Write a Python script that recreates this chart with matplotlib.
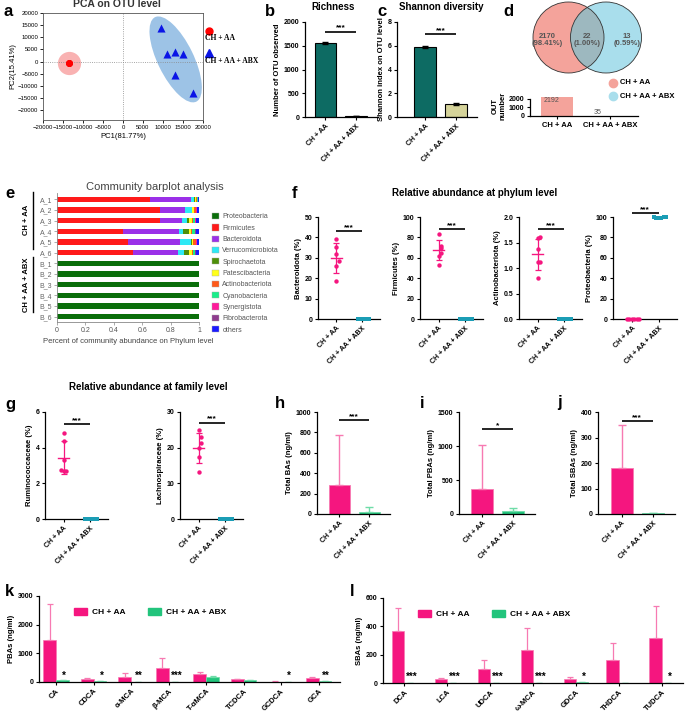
import numpy as np
import matplotlib
matplotlib.use('Agg')
import matplotlib.pyplot as plt
import matplotlib.transforms as transforms
from matplotlib.patches import Ellipse, Circle, Patch
from matplotlib.lines import Line2D

plt.rcParams['font.family'] = ['Liberation Sans', 'DejaVu Sans']
plt.rcParams['font.size'] = 5
plt.rcParams['axes.linewidth'] = 0.9

# ---------------- data ----------------
groups = ['CH + AA', 'CH + AA + ABX']

# a: PCA scores
pca_aa_x = [-13600, -13500, -13400, -13550, -13450, -13500]
pca_aa_y = [-600, -500, -400, -550, -450, -500]
pca_abx_x = [9500, 11000, 13000, 15000, 13000, 17500]
pca_abx_y = [14000, 3000, 4000, 3000, -5500, -13000]

# b, c: alpha diversity
richness = [1560, 15]
richness_err = [25, 3]
shannon = [5.9, 1.1]
shannon_err = [0.1, 0.06]

# d: venn
venn_counts = [2170, 22, 13]
venn_pct = ['98.41%', '1.00%', '0.59%']
otu_total = [2192, 35]

# e: community barplot
samples = ['A_1', 'A_2', 'A_3', 'A_4', 'A_5', 'A_6', 'B_1', 'B_2', 'B_3', 'B_4', 'B_5', 'B_6']
phyla = ['Proteobacteria', 'Firmicutes', 'Bacteroidota', 'Verrucomicrobiota', 'Spirochaetota',
         'Patescibacteria', 'Actinobacteriota', 'Cyanobacteria', 'Synergistota', 'Fibrobacterota', 'others']
phylum_colors = ['#0a6e0a', '#ff1a1a', '#9b30e8', '#2ee8f5', '#4e8f0a', '#ffff1a',
                 '#ff5a1a', '#1aee8a', '#ff1a9a', '#8e3c8e', '#1a1aff']
proteo_frac = [0.003, 0.003, 0.003, 0.003, 0.003, 0.003, 1, 1, 1, 1, 1, 1]
firm_frac = [0.65, 0.72, 0.72, 0.46, 0.50, 0.53, 0, 0, 0, 0, 0, 0]
bact_frac = [0.29, 0.18, 0.155, 0.395, 0.36, 0.32, 0, 0, 0, 0, 0, 0]
verr_frac = [0.02, 0.045, 0.04, 0.03, 0.08, 0.04, 0, 0, 0, 0, 0, 0]
spiro_frac = [0.007, 0.005, 0.01, 0.045, 0.007, 0.035, 0, 0, 0, 0, 0, 0]
pates_frac = [0.008, 0.01, 0.02, 0.01, 0.01, 0.025, 0, 0, 0, 0, 0, 0]
actino_frac = [0.01, 0.015, 0.012, 0.008, 0.016, 0.008, 0, 0, 0, 0, 0, 0]
cyano_frac = [0.003, 0.003, 0.01, 0.02, 0.005, 0.008, 0, 0, 0, 0, 0, 0]
syn_frac = [0.002, 0.003, 0.006, 0.004, 0.003, 0.005, 0, 0, 0, 0, 0, 0]
fibro_frac = [0.002, 0.002, 0.004, 0.005, 0.002, 0.004, 0, 0, 0, 0, 0, 0]
others_frac = [0.005, 0.014, 0.02, 0.02, 0.014, 0.022, 0, 0, 0, 0, 0, 0]

# f: phylum relative abundance (%)
bacteroidota_aa = [39, 35.5, 32, 28.5, 26, 18.5]
bacteroidota_abx = [0.01, 0.01, 0.02, 0.01, 0.02, 0.01]
firmicutes_aa = [83, 72, 70, 65, 62, 53]
firmicutes_abx = [0.02, 0.01, 0.02, 0.01, 0.01, 0.02]
actino_aa = [1.61, 1.58, 1.37, 1.12, 1.12, 0.81]
actino_abx = [0.001, 0.001, 0.002, 0.001, 0.001, 0.002]
proteo_aa = [0.3, 0.2, 0.4, 0.25, 0.35, 0.3]
proteo_abx = [99.6, 99.4, 99.7, 99.5, 99.6, 99.3]

# g: family relative abundance (%)
rumino_aa = [4.85, 4.35, 3.3, 2.7, 2.7, 2.75]
rumino_abx = [0.01, 0.01, 0.01, 0.01, 0.01, 0.01]
lachno_aa = [25, 23, 21.3, 20, 17.3, 13.2]
lachno_abx = [0.05, 0.05, 0.05, 0.05, 0.05, 0.05]

# h, i, j: totals (ng/ml)
total_bas = [285, 22]
total_bas_err = [490, 43]
total_pbas = [375, 45]
total_pbas_err = [645, 50]
total_sbas = [180, 2]
total_sbas_err = [168, 1]

# k: primary bile acids
pba_names = ['CA', 'CDCA', 'α-MCA', 'β-MCA', 'T-αMCA', 'TCDCA', 'GCDCA', 'GCA']
pba_aa = [1480, 120, 170, 500, 280, 90, 15, 150]
pba_aa_err = [1250, 30, 130, 350, 70, 30, 5, 25]
pba_abx = [70, 20, 2, 2, 185, 60, 3, 20]
pba_abx_err = [10, 5, 0, 0, 10, 10, 0, 5]
pba_stars = ['*', '*', '**', '***', '', '', '*', '**']

# l: secondary bile acids
sba_names = ['DCA', 'LCA', 'UDCA', 'ω-MCA', 'GDCA', 'THDCA', 'TUDCA']
sba_aa = [365, 25, 100, 230, 30, 165, 315]
sba_aa_err = [165, 8, 60, 155, 12, 120, 228]
sba_abx = [1, 1, 1, 1, 8, 1, 1]
sba_abx_err = [0, 0, 0, 0, 2, 0, 0]
sba_stars = ['***', '***', '***', '***', '*', '', '*']

PINK = '#f5167f'
PINK_L = '#f77ab2'
TEAL = '#1b9db5'
GREEN = '#22c47c'
GREEN_L = '#6fdca8'

W, H = 685, 712
fig = plt.figure(figsize=(W / 100, H / 100), dpi=100)


def px_ax(l, t, r, b):
    return fig.add_axes([l / W, 1 - b / H, (r - l) / W, (b - t) / H])


def ftext(x, y, s, **kw):
    return fig.text(x / W, 1 - y / H, s, **kw)


def style(ax, size=5):
    ax.spines[['top', 'right']].set_visible(False)
    ax.tick_params(direction='out', length=2.5, width=0.8, labelsize=size, pad=1.5)


def yticks_bold(ax, ticks, fmt='{:g}'):
    ax.set_yticks(ticks, [fmt.format(t) for t in ticks], fontweight='bold')


def group_xticks(ax, labels, size=5):
    ax.set_xticks(range(len(labels)), labels, rotation=45, ha='right',
                  rotation_mode='anchor', fontweight='bold', fontsize=size)


def sig(ax, x0, x1, y, s):
    ax.plot([x0, x1], [y, y], color='k', lw=1.2, clip_on=False, solid_capstyle='butt')
    ax.text((x0 + x1) / 2, y, s, ha='center', va='bottom', fontsize=6, fontweight='bold')


def swarm(vals, delta, step=0.09):
    vals = np.asarray(vals, float)
    offs = np.zeros(len(vals))
    placed = []
    for idx in np.argsort(vals):
        k = sum(1 for j in placed if abs(vals[j] - vals[idx]) < delta)
        offs[idx] = ((k + 1) // 2) * step * (1 if k % 2 else -1)
        placed.append(idx)
    return offs


def dotplot(ax, a, b, ticks, ylabel, sig_y, fmt='{:g}'):
    top = ticks[-1]
    for i, (vals, col, mk) in enumerate([(a, PINK, 'o'), (b, TEAL, 's')]):
        vals = np.asarray(vals, float)
        ax.scatter(i + swarm(vals, top * 0.06), vals, s=10, color=col, marker=mk,
                   lw=0, zorder=3, clip_on=False)
        m, sd = vals.mean(), vals.std(ddof=1)
        ax.plot([i - 0.22, i + 0.22], [m, m], color=col, lw=1, zorder=4, clip_on=False)
        ax.errorbar(i, m, yerr=sd, color=col, capsize=2.5, lw=0.9, capthick=0.9, zorder=4)
    style(ax)
    ax.set_xlim(-0.7, 1.68)
    ax.set_ylim(0, top)
    yticks_bold(ax, ticks, fmt)
    group_xticks(ax, groups)
    ax.set_ylabel(ylabel, fontsize=5.5, fontweight='bold', labelpad=2)
    sig(ax, 0, 1, sig_y, '***')


def barpair(ax, vals, errs, ticks, ylabel, sig_y, star):
    ax.bar([0, 1], vals, width=0.7, color=[PINK, GREEN], edgecolor=[PINK_L, GREEN_L], lw=0.6)
    for i, c in enumerate([PINK_L, GREEN_L]):
        ax.errorbar(i, vals[i], yerr=[[0], [errs[i]]], color=c, capsize=3, lw=1, capthick=1)
    style(ax)
    ax.set_xlim(-0.75, 1.7)
    ax.set_ylim(0, ticks[-1])
    yticks_bold(ax, ticks)
    group_xticks(ax, groups)
    ax.set_ylabel(ylabel, fontsize=5.5, fontweight='bold', labelpad=2)
    sig(ax, 0, 1, sig_y, star)


# ---------------- a: PCA ----------------
ax = px_ax(43, 13, 203, 120)
ax.axhline(0, color='#888', lw=0.6, ls=':')
ax.axvline(0, color='#888', lw=0.6, ls=':')
ax.scatter(np.mean(pca_aa_x), np.mean(pca_aa_y), s=280, color='#f9b2b2', lw=0, zorder=1)
# group ellipse around the ABX samples, drawn in screen pixels around their centroid
ell = Ellipse((0, 0), 94, 36, angle=-64, facecolor='#9dc3e6', edgecolor='none', zorder=1)
ell.set_transform(transforms.Affine2D() +
                  transforms.ScaledTranslation(np.mean(pca_abx_x), np.mean(pca_abx_y), ax.transData))
ax.add_patch(ell)
ax.scatter(pca_aa_x, pca_aa_y, s=22, color='#ff0000', lw=0, zorder=3)
ax.scatter(pca_abx_x, pca_abx_y, s=34, marker='^', color='#0a14e6', lw=0, zorder=3)
ax.set_xlim(-20000, 20000)
ax.set_ylim(-24000, 20000)
ax.set_xticks(np.arange(-20000, 20001, 5000))
ax.set_yticks(np.arange(-20000, 20001, 5000))
ax.tick_params(direction='out', length=2, width=0.6, labelsize=4.3, pad=1.5)
for s in ax.spines.values():
    s.set_linewidth(0.6)
    s.set_color('#555')
ax.set_xlabel('PC1(81.77%)', fontsize=5.5, labelpad=2)
ax.set_ylabel('PC2(15.41%)', fontsize=5.5, labelpad=1)
ftext(117, 4, 'PCA on OTU level', ha='center', va='center', fontsize=7.5, fontweight='bold', color='#333')
fig.add_artist(Line2D([209 / W], [1 - 31 / H], marker='o', color='#ff0000', ms=5, lw=0))
fig.add_artist(Line2D([209 / W], [1 - 53 / H], marker='^', color='#0a14e6', ms=6, lw=0))
ftext(205, 38, 'CH + AA', fontsize=5.5, fontweight='bold', family=['Liberation Serif', 'DejaVu Serif'], va='center')
ftext(205, 61, 'CH + AA + ABX', fontsize=5.5, fontweight='bold', family=['Liberation Serif', 'DejaVu Serif'], va='center')

# ---------------- b: richness ----------------
ax = px_ax(305, 22, 378, 117)
ax.bar([0, 1], richness, width=0.7, color='#0d6b63', edgecolor='k', lw=0.8)
ax.errorbar([0, 1], richness, yerr=richness_err, fmt='none', ecolor='k', capsize=2.5, lw=0.8)
style(ax)
ax.set_xlim(-0.67, 1.72)
ax.set_ylim(0, 2000)
yticks_bold(ax, [0, 500, 1000, 1500, 2000])
group_xticks(ax, groups)
ax.set_ylabel('Number of OTU observed', fontsize=5.5, fontweight='bold', labelpad=2)
sig(ax, 0, 1, 1800, '***')
ftext(333, 7, 'Richness', ha='center', va='center', fontsize=7, fontweight='bold')

# ---------------- c: shannon ----------------
ax = px_ax(397, 22, 477, 117)
ax.bar([0, 1], shannon, width=0.7, color=['#0d6b63', '#d5d39a'], edgecolor='k', lw=0.8)
ax.errorbar([0, 1], shannon, yerr=shannon_err, fmt='none', ecolor='k', capsize=2.5, lw=0.8)
style(ax)
ax.set_xlim(-0.9, 1.68)
ax.set_ylim(0, 8)
yticks_bold(ax, [0, 2, 4, 6, 8])
group_xticks(ax, groups)
ax.set_ylabel('Shannon index on OTU level', fontsize=5.5, fontweight='bold', labelpad=2)
sig(ax, 0, 1, 7, '***')
ftext(441, 7, 'Shannon diversity', ha='center', va='center', fontsize=7, fontweight='bold')

# ---------------- d: venn ----------------
ax = px_ax(520, 0, 650, 78)
ax.set_xlim(520, 650)
ax.set_ylim(78, 0)
ax.axis('off')
c1 = Circle((568.5, 37.5), 35.5, facecolor='#f4a39b', edgecolor='none')
c2 = Circle((606, 37.5), 35.5, facecolor='#a9deec', edgecolor='none')
ax.add_patch(c1)
ax.add_patch(c2)
ov = Circle((606, 37.5), 35.5, facecolor='#9db8bf', edgecolor='none')
ax.add_patch(ov)
ov.set_clip_path(c1)
ax.add_patch(Circle((568.5, 37.5), 35.5, facecolor='none', edgecolor='#333', lw=0.6))
ax.add_patch(Circle((606, 37.5), 35.5, facecolor='none', edgecolor='#333', lw=0.6))
for xc, n, p in zip([547, 587, 627], venn_counts, venn_pct):
    ax.text(xc, 40, f'{n}\n({p})', ha='center', va='center', fontsize=5.5, fontweight='bold',
            color='#555', linespacing=1.0)
fig.add_artist(Line2D([613 / W], [1 - 83 / H], marker='o', color='#f4a39b', ms=6, lw=0))
fig.add_artist(Line2D([613 / W], [1 - 96 / H], marker='o', color='#a9deec', ms=6, lw=0))
ftext(620, 83, 'CH + AA', fontsize=5.5, fontweight='bold', va='center')
ftext(620, 96, 'CH + AA + ABX', fontsize=5.5, fontweight='bold', va='center')

ax = px_ax(530, 95, 638, 116)
ax.bar([0, 1], otu_total, width=0.6, color='#f4a39b')
ax.text(-0.25, otu_total[0], str(otu_total[0]), va='top', fontsize=5, color='#555')
ax.text(1 - 0.3, otu_total[1], str(otu_total[1]), va='bottom', fontsize=5, color='#555')
style(ax)
ax.set_xlim(-0.51, 1.53)
ax.set_ylim(0, 2470)
ax.spines['left'].set_bounds(0, 2000)
yticks_bold(ax, [0, 1000, 2000])
ax.set_xticks([0, 1], groups, fontweight='bold', fontsize=5.5)
ax.set_ylabel('OUT\nnumber', fontsize=5.5, fontweight='bold', labelpad=2, linespacing=1.0)

ftext(3, 12, 'a', fontsize=12, fontweight='bold', va='center')
ftext(265, 12, 'b', fontsize=12, fontweight='bold', va='center')
ftext(377, 12, 'c', fontsize=12, fontweight='bold', va='center')
ftext(503, 12, 'd', fontsize=12, fontweight='bold', va='center')

# ---------------- e: community barplot ----------------
ax = px_ax(57, 193, 199, 322)
fracs = [proteo_frac, firm_frac, bact_frac, verr_frac, spiro_frac, pates_frac,
         actino_frac, cyano_frac, syn_frac, fibro_frac, others_frac]
ypos = np.arange(len(samples))
left = np.zeros(len(samples))
for name, col, f in zip(phyla, phylum_colors, fracs):
    ax.barh(ypos, f, left=left, height=0.5, color=col, label=name)
    left += np.asarray(f)
ax.set_xlim(0, 1)
ax.set_ylim(len(samples) - 0.5, -0.6)
ax.set_yticks(ypos, samples, color='#666', fontsize=5)
ax.set_xticks([0, 0.2, 0.4, 0.6, 0.8, 1], ['0', '0.2', '0.4', '0.6', '0.8', '1'], color='#555', fontsize=5)
ax.spines[['top', 'right']].set_visible(False)
for s in ['left', 'bottom']:
    ax.spines[s].set_color('#888')
    ax.spines[s].set_linewidth(0.6)
ax.tick_params(direction='out', length=2, width=0.5, color='#888', pad=1.5)
ax.set_xlabel('Percent of community abundance on Phylum level', fontsize=5.5, color='#444', labelpad=3)
handles = [Patch(facecolor=c, edgecolor='#aaa', lw=0.3) for c in phylum_colors]
ax.legend(handles, phyla, loc='upper left', bbox_to_anchor=(212 / W, 1 - 213 / H),
          bbox_transform=fig.transFigure, frameon=False, fontsize=5, handlelength=1.0,
          handleheight=1.0, labelspacing=0.55, handletextpad=0.5, borderpad=0,
          borderaxespad=0, labelcolor='#555')
ftext(155, 187, 'Community barplot analysis', ha='center', va='center', fontsize=8, color='#444')
fig.add_artist(Line2D([33 / W] * 2, [1 - 192 / H, 1 - 249 / H], color='k', lw=1))
fig.add_artist(Line2D([33 / W] * 2, [1 - 257 / H, 1 - 312 / H], color='k', lw=1))
ftext(26, 220, 'CH + AA', rotation=90, ha='center', va='center', fontsize=5.5, fontweight='bold')
ftext(26, 285, 'CH + AA + ABX', rotation=90, ha='center', va='center', fontsize=5.5, fontweight='bold')
ftext(5, 194, 'e', fontsize=12, fontweight='bold', va='center')

# ---------------- f: phylum dot plots ----------------
dotplot(px_ax(318, 217, 380, 319), bacteroidota_aa, bacteroidota_abx,
        [0, 10, 20, 30, 40, 50], 'Bacteroidota (%)', 43)
dotplot(px_ax(420, 217, 483, 319), firmicutes_aa, firmicutes_abx,
        [0, 20, 40, 60, 80, 100], 'Firmicutes (%)', 88)
dotplot(px_ax(519, 217, 582, 319), actino_aa, actino_abx,
        [0, 0.5, 1.0, 1.5, 2.0], 'Actinobacteriota (%)', 1.76, '{:.1f}')
dotplot(px_ax(613, 217, 677, 319), proteo_aa, proteo_abx,
        [0, 20, 40, 60, 80, 100], 'Proteobacteria (%)', 104)
ftext(292, 194, 'f', fontsize=12, fontweight='bold', va='center')
ftext(475, 193, 'Relative abundance at phylum level', ha='center', va='center', fontsize=7, fontweight='bold')

# ---------------- g: family dot plots ----------------
dotplot(px_ax(45, 412, 108, 519), rumino_aa, rumino_abx, [0, 2, 4, 6], 'Ruminococcaceae (%)', 5.3)
dotplot(px_ax(180, 412, 243, 519), lachno_aa, lachno_abx, [0, 10, 20, 30], 'Lachnospiraceae (%)', 27)
ftext(5, 405, 'g', fontsize=12, fontweight='bold', va='center')
ftext(148, 387, 'Relative abundance at family level', ha='center', va='center', fontsize=7, fontweight='bold')

# ---------------- h, i, j: totals ----------------
barpair(px_ax(317, 412, 390, 514), total_bas, total_bas_err, [0, 200, 400, 600, 800, 1000],
        'Total BAs (ng/ml)', 920, '***')
barpair(px_ax(459, 412, 535, 514), total_pbas, total_pbas_err, [0, 500, 1000, 1500],
        'Total PBAs (ng/ml)', 1250, '*')
barpair(px_ax(598, 412, 675, 514), total_sbas, total_sbas_err, [0, 100, 200, 300, 400],
        'Total SBAs (ng/ml)', 365, '***')
ftext(275, 403, 'h', fontsize=12, fontweight='bold', va='center')
ftext(420, 403, 'i', fontsize=12, fontweight='bold', va='center')
ftext(557, 403, 'j', fontsize=12, fontweight='bold', va='center')


# ---------------- k, l: individual bile acids ----------------
def grouped(ax, names, aa, aa_err, abx, abx_err, stars, ticks, ylabel, bw, xlim, star_y, leg_xy):
    x = np.arange(len(names))
    ax.bar(x - bw / 2, aa, width=bw, color=PINK, edgecolor=PINK_L, lw=0.5)
    ax.bar(x + bw / 2, abx, width=bw, color=GREEN, edgecolor=GREEN_L, lw=0.5)
    ax.errorbar(x - bw / 2, aa, yerr=[np.zeros(len(aa)), aa_err], fmt='none', ecolor=PINK_L,
                capsize=2.5, lw=0.9, capthick=0.9)
    ax.errorbar(x + bw / 2, abx, yerr=[np.zeros(len(abx)), abx_err], fmt='none', ecolor=GREEN_L,
                capsize=2.5, lw=0.9, capthick=0.9)
    for xi, s in zip(x, stars):
        if s:
            ax.text(xi + bw * 0.6, star_y, s, ha='center', va='bottom', fontsize=7, fontweight='bold')
    style(ax)
    ax.set_xlim(*xlim)
    ax.set_ylim(0, ticks[-1])
    yticks_bold(ax, ticks)
    ax.set_xticks(x, names, rotation=45, ha='right', rotation_mode='anchor', fontweight='bold', fontsize=5.5)
    ax.set_ylabel(ylabel, fontsize=5.5, fontweight='bold', labelpad=2)
    ax.legend([Patch(color=PINK), Patch(color=GREEN)], groups, ncol=2, loc='upper left',
              bbox_to_anchor=(leg_xy[0] / W, 1 - leg_xy[1] / H), bbox_transform=fig.transFigure,
              frameon=False, prop={'size': 6, 'weight': 'bold'}, handlelength=1.5, handleheight=0.9,
              columnspacing=2.8, handletextpad=0.6, borderpad=0, borderaxespad=0)


grouped(px_ax(39, 596, 340, 682), pba_names, pba_aa, pba_aa_err, pba_abx, pba_abx_err, pba_stars,
        [0, 1000, 2000, 3000], 'PBAs (ng/ml)', 0.34, (-0.46, 7.57), 40, (74, 608))
grouped(px_ax(383, 598, 683, 683), sba_names, sba_aa, sba_aa_err, sba_abx, sba_abx_err, sba_stars,
        [0, 200, 400, 600], 'SBAs (ng/ml)', 0.29, (-0.49, 6.49), 8, (418, 610))
ftext(5, 592, 'k', fontsize=12, fontweight='bold', va='center')
ftext(350, 592, 'l', fontsize=12, fontweight='bold', va='center')

fig.savefig('out.png', dpi=100)
